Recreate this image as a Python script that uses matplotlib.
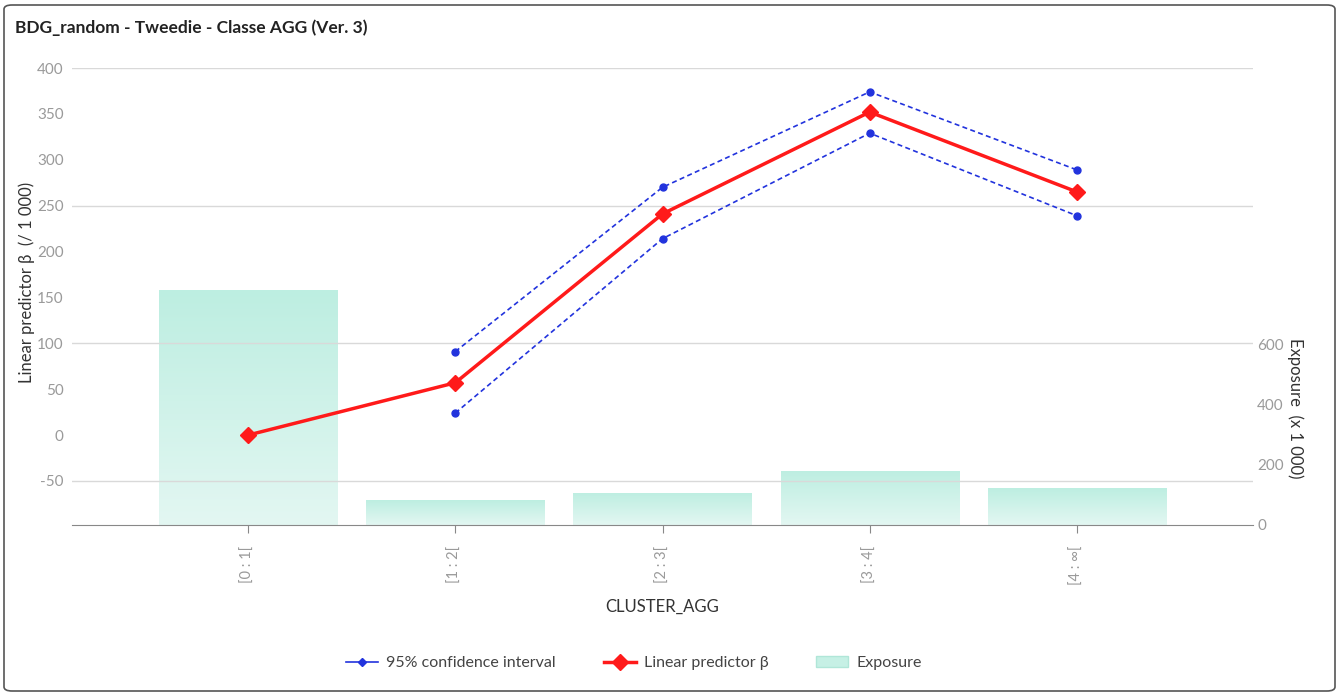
import numpy as np
import matplotlib.pyplot as plt
import matplotlib.patches as patches
from matplotlib.lines import Line2D

plt.rcParams['font.family'] = ['Lato', 'DejaVu Sans']
plt.rcParams['axes.unicode_minus'] = False

# data
categories = ['[0 : 1[', '[1 : 2[', '[2 : 3[', '[3 : 4[', '[4 : ∞[']
exposure = [783, 83, 107, 180, 123]            # x 1 000
beta = [0, 57, 241, 352, 265]                  # / 1 000
ci_upper = [None, 91, 270, 374, 289]
ci_lower = [None, 24, 214, 329, 239]

W, H = 1340, 695
fig = plt.figure(figsize=(W / 100, H / 100), dpi=100)

# outer frame
frame = patches.FancyBboxPatch((4 / W, 4 / H), 1 - 9 / W, 1 - 9 / H,
                               boxstyle="round,pad=0,rounding_size=0.006",
                               transform=fig.transFigure, facecolor='white',
                               edgecolor='#555555', linewidth=1.2, zorder=-10)
fig.patches.append(frame)

fig.text(15 / W, 1 - 28 / H, 'BDG_random - Tweedie - Classe AGG (Ver. 3)',
         fontsize=12.5, fontweight='bold', color='#222222', va='center', ha='left')

left, right, top, bottom = 72, 1253, 68, 525
ax = fig.add_axes([left / W, 1 - bottom / H, (right - left) / W, (bottom - top) / H])
ax2 = ax.twinx()

x = np.arange(len(categories))

# exposure bars with a soft vertical gradient
bars = ax2.bar(x, exposure, width=0.86, color='none', edgecolor='none')
grad = np.linspace(0, 1, 256).reshape(-1, 1)
cmap = plt.matplotlib.colors.LinearSegmentedColormap.from_list(
    'teal', ['#e3f7f2', '#bdeee1'])
for b in bars:
    bx, by = b.get_x(), b.get_y()
    bw, bh = b.get_width(), b.get_height()
    im = ax2.imshow(grad, extent=[bx, bx + bw, by, by + bh], origin='lower',
                    cmap=cmap, aspect='auto', zorder=1)
    im.set_clip_path(b)

ax2.set_ylim(0, 1523)
ax2.set_yticks([0, 200, 400, 600])
ax2.tick_params(axis='y', length=0, labelsize=11, labelcolor='#9a9a9a', pad=3)
ax2.set_ylabel('Exposure  (x 1 000)', rotation=270, fontsize=12, color='#333333')
ax2.yaxis.set_label_coords(1.043, 0.255)

# lines on top of the bars
ax.set_zorder(ax2.get_zorder() + 1)
ax.patch.set_visible(False)

for yv in [400, 250, 100, -50]:
    ax.axhline(yv, color='#d9d9d9', lw=1, zorder=0)

xi = x[1:]
ax.plot(xi, ci_upper[1:], color='#2233dd', ls=(0, (3, 2)), lw=1.2,
        marker='o', ms=5, zorder=3)
ax.plot(xi, ci_lower[1:], color='#2233dd', ls=(0, (3, 2)), lw=1.2,
        marker='o', ms=5, zorder=3)
ax.plot(x, beta, color='#ff1a1a', lw=2.5, marker='D', ms=8, zorder=4)

ax.set_xlim(-0.85, 4.85)
ax2.set_xlim(-0.85, 4.85)
ax.set_ylim(-98, 400)
ax.set_yticks(np.arange(-50, 401, 50))
ax.tick_params(axis='y', length=0, labelsize=11, labelcolor='#9a9a9a', pad=6)
ax.set_xticks(x)
ax.set_xticklabels(categories, rotation=90, fontsize=10.5, color='#9a9a9a')
ax.tick_params(axis='x', length=6, color='#888888', pad=9)
ax.set_xlabel('CLUSTER_AGG', fontsize=12, color='#333333', labelpad=10)
ax.set_ylabel('Linear predictor β  (/ 1 000)', fontsize=12, color='#333333', labelpad=0)
ax.yaxis.set_label_coords(-0.031, 0.53)

for a in (ax, ax2):
    for s in ['top', 'right', 'left']:
        a.spines[s].set_visible(False)
    a.spines['bottom'].set_color('#888888')
ax2.spines['bottom'].set_visible(False)

handles = [
    Line2D([], [], color='#2233dd', lw=1.2, marker='D', ms=4),
    Line2D([], [], color='#ff1a1a', lw=2.5, marker='D', ms=8),
    patches.Patch(facecolor='#c6f0e5', edgecolor='#b0e6d8'),
]
fig.legend(handles, ['95% confidence interval', 'Linear predictor β', 'Exposure'],
           loc='center', bbox_to_anchor=(634 / W, 1 - 663 / H), ncol=3,
           frameon=False, fontsize=11.5, labelcolor='#444444',
           handlelength=2.0, columnspacing=3.0, handletextpad=0.5)

fig.savefig('out.png', dpi=100)
